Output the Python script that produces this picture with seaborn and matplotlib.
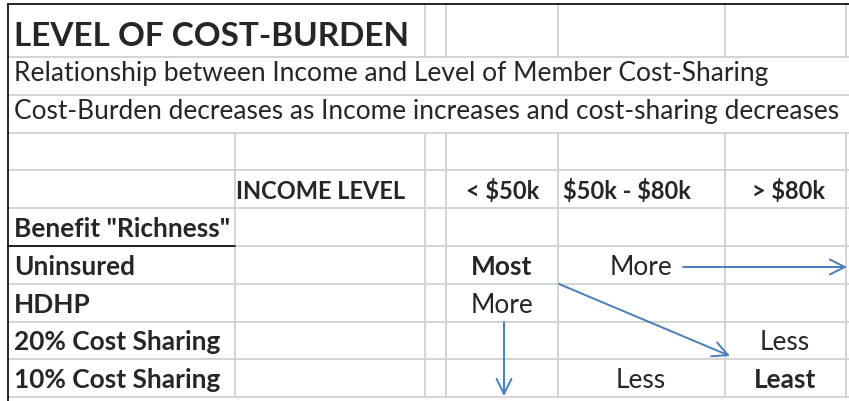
import seaborn as sns
import matplotlib.pyplot as plt

# table content
title = 'LEVEL OF COST-BURDEN'
subtitles = ['Relationship between Income and Level of Member Cost-Sharing',
             'Cost-Burden decreases as Income increases and cost-sharing decreases']
income_header = 'INCOME LEVEL'
income_levels = ['< $50k', '$50k - $80k', '> $80k']
benefit_header = 'Benefit "Richness"'
benefit_levels = ['Uninsured', 'HDHP', '20% Cost Sharing', '10% Cost Sharing']
cost_burden = [['Most', 'More', ''],
               ['More', '', ''],
               ['', '', 'Less'],
               ['', 'Less', 'Least']]
bold_cells = ['Most', 'Least']

# sheet layout (pixels)
col_edges = [8, 235, 425, 446, 558, 725, 846]
row_edges = [5, 58, 96, 134, 171, 209, 247, 285, 323, 360, 398]
GRID = '#d4d4d4'
ARROW = '#4a7ebb'
FONT = 'Lato'

sns.set_theme(style='white')
plt.rcParams['font.family'] = [FONT, 'DejaVu Sans']
plt.rcParams['text.parse_math'] = False

fig = plt.figure(figsize=(8.49, 4.02), dpi=100)
ax = fig.add_axes([0, 0, 1, 1])
ax.set_xlim(0, 849)
ax.set_ylim(402, 0)
ax.axis('off')

# gridlines
for y in row_edges[1:]:
    ax.plot([col_edges[0], 849], [y, y], color=GRID, lw=1.4, zorder=1)
for x in col_edges[2:]:
    ax.plot([x, x], [row_edges[0], row_edges[1]], color=GRID, lw=1.4, zorder=1)
for x in col_edges[1:]:
    ax.plot([x, x], [row_edges[3], row_edges[-1]], color=GRID, lw=1.4, zorder=1)
# black borders
ax.plot([col_edges[0], 849], [row_edges[0], row_edges[0]], color='black', lw=1.2, zorder=2)
ax.plot([col_edges[0], col_edges[0]], [row_edges[0], 402], color='black', lw=1.2, zorder=2)
ax.plot([col_edges[0], col_edges[1]], [row_edges[6], row_edges[6]], color='black', lw=1.2, zorder=2)


def fit(t, width):
    fig.canvas.draw()
    w = t.get_window_extent().width
    t.set_fontsize(t.get_fontsize() * width / w)


t = ax.text(14, row_edges[1] - 12, title, fontsize=24, fontweight='bold', va='baseline')
fit(t, 395)
body = 15.5
for i, s in enumerate(subtitles):
    t = ax.text(14, row_edges[2 + i] - 15, s, fontsize=body, va='baseline')
    fit(t, [754, 821][i])
    body = t.get_fontsize()

def cell(s, x, r, ha='center', bold=False, size=None):
    ax.text(x, row_edges[r + 1] - 10, s, fontsize=size or body, ha=ha, va='baseline',
            fontweight='bold' if bold else 'normal')

head = body * 0.9
cell(income_header, 321, 4, bold=True, size=head)
cell(income_levels[0], 503, 4, bold=True, size=head)
cell(income_levels[1], 563, 4, ha='left', bold=True, size=head)
cell(income_levels[2], 789, 4, bold=True, size=head)
cell(benefit_header, 14, 5, ha='left', bold=True)

centers = [502, 641, 785]
for i, b in enumerate(benefit_levels):
    cell(b, 14, 6 + i, ha='left', bold=True)
    for j, v in enumerate(cost_burden[i]):
        if v:
            cell(v, centers[j], 6 + i, bold=v in bold_cells)

# arrows
style = dict(arrowstyle='->,head_length=0.9,head_width=0.45', color=ARROW, lw=1.4,
             shrinkA=0, shrinkB=0)
ax.annotate('', xy=(847, 268), xytext=(683, 268), arrowprops=style)
ax.annotate('', xy=(730, 357), xytext=(559, 285), arrowprops=style)
ax.annotate('', xy=(504, 397), xytext=(504, 323), arrowprops=style)

fig.savefig('out.png', dpi=100)
